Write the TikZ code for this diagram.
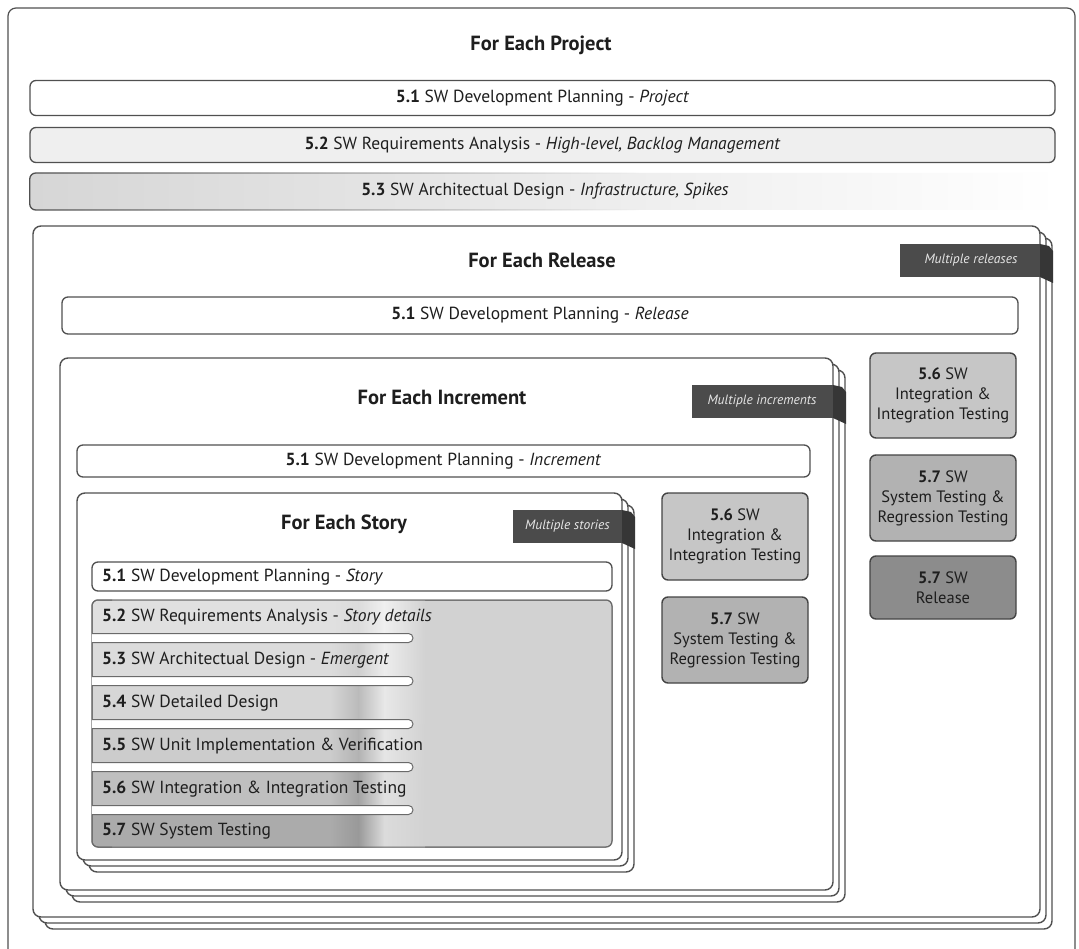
\documentclass[tikz,border=0pt]{standalone}
\usepackage{fontspec}
\setmainfont{PT Sans}
\usetikzlibrary{fadings}

\definecolor{edge}{HTML}{505050}
\definecolor{rowedge}{HTML}{6A6A6A}
\definecolor{ink}{HTML}{1E1E1E}
\definecolor{tabfill}{HTML}{4B4B4B}
\definecolor{tabwrap}{HTML}{363636}
\definecolor{tabink}{HTML}{E6E6E6}
\definecolor{panel}{HTML}{D2D2D2}
\definecolor{reqfill}{HTML}{EFEFEF}
\definecolor{archfill}{HTML}{D6D6D6}
\definecolor{archmid}{HTML}{E6E6E6}
\definecolor{intfill}{HTML}{C6C6C6}
\definecolor{sysfill}{HTML}{B2B2B2}
\definecolor{relfill}{HTML}{8C8C8C}

% a frame with two copies stacked behind it (x1,y1,x2,y2)
\newcommand\stackframe[4]{%
  \foreach \d in {12,6}{\draw[frame] (#1+\d,#2+\d) rectangle (#3+\d,#4+\d);}
  \draw[frame] (#1,#2) rectangle (#3,#4);}

% one shaded row of the story panel: top, bottom, base, band, highlight
\newcommand\storyrow[5]{%
  \fill[#3, rounded corners=6pt] (92,#1) rectangle (336,#2);
  \shade[left color=#3, right color=#4] (330,#1) rectangle (358.5,#2);
  \shade[left color=#4, right color=#5] (358,#1) rectangle (384.5,#2);
  \shade[left color=#5, right color=panel] (384,#1) rectangle (425,#2);
  \draw[rowedge, line width=1pt, rounded corners=6pt] (112,#1) -- (92,#1) -- (92,#2) -- (112,#2);}

% white separator between two rows, centred on y
\newcommand\pill[1]{%
  \filldraw[fill=white, draw=rowedge, line width=1pt, rounded corners=4.5pt]
    (92,#1-4.5) -- (413,#1-4.5) -- (413,#1+4.5) -- (92,#1+4.5);}

% dark label tab folded over the right edge of a stack
\newcommand\foldtab[4]{% left x, top y, frame right x, bottom y
  \fill[tabfill] (#1,#2) rectangle (#3,#4);
  \fill[tabwrap] (#3,#2) -- (#3+9,#2+2) -- (#3+13,#2+7) -- (#3+13,#4+6) -- (#3,#4) -- cycle;}

\begin{document}
\begin{tikzpicture}[x=1pt,y=-1pt,
  frame/.style={draw=edge, line width=1.4pt, rounded corners=8pt, fill=white},
  bar/.style={draw=edge, line width=1.3pt, rounded corners=6pt, inner sep=0pt,
    text=ink, font=\fontsize{17.5}{20}\selectfont},
  rowtext/.style={anchor=west, inner sep=0pt, text=ink, font=\fontsize{17.5}{20}\selectfont},
  title/.style={text=ink, font=\fontsize{20.5}{24}\selectfont\bfseries},
  tabtext/.style={text=tabink, font=\fontsize{13.5}{15}\selectfont\itshape},
  box/.style={draw=edge!85!black, line width=1.4pt, rounded corners=6pt, inner sep=0pt,
    align=center, text=ink, minimum width=146pt, font=\fontsize{16.5}{20}\selectfont}]

\useasboundingbox (0,0) rectangle (1079,949);
\fill[white] (0,0) rectangle (1079,949);

% ---------------- project level ----------------
\draw[edge, line width=1.2pt, rounded corners=8pt] (8,949) -- (8,8) -- (1075,8) -- (1075,949);
\node[title] (tProject) at (541,45) {For Each Project};

\node[bar, fill=white, minimum width=1025pt, minimum height=35pt] (p51) at (542.5,98)
  {\textbf{5.1} SW Development Planning - \textit{Project}};
\node[bar, fill=reqfill, minimum width=1025pt, minimum height=35pt] (p52) at (542.5,145)
  {\textbf{5.2} SW Requirements Analysis - \textit{High-level, Backlog Management}};
\node[bar, draw=none, left color=archfill, middle color=archmid, right color=white,
  minimum width=1030pt, minimum height=37pt] (p53) at (545,191.5)
  {\textbf{5.3} SW Architectual Design - \textit{Infrastructure, Spikes}};
\draw[edge, line width=1.3pt, rounded corners=6pt, path fading=east]
  (640,173) -- (30,173) -- (30,210) -- (640,210);

% ---------------- release level ----------------
\stackframe{33}{226}{1040}{917}
\foldtab{900}{244}{1040}{277}
\node[tabtext] (tRelTab) at (971,260.5) {Multiple releases};
\node[title] (tRelease) at (542,260) {For Each Release};
\node[bar, fill=white, minimum width=956pt, minimum height=37pt] (r51) at (540,315.5)
  {\textbf{5.1} SW Development Planning - \textit{Release}};

\node[box, fill=intfill, minimum height=85pt] (rel56) at (943,395.5)
  {\textbf{5.6} SW\\Integration \&\\Integration Testing};
\node[box, fill=sysfill, minimum height=86pt] (rel57) at (943,498)
  {\textbf{5.7} SW\\System Testing \&\\Regression Testing};
\node[box, fill=relfill, minimum height=63pt] (relRel) at (943,587.5)
  {\textbf{5.7} SW\\Release};

% ---------------- increment level ----------------
\stackframe{60}{358}{833}{890}
\foldtab{692}{385}{833}{418}
\node[tabtext] (tIncTab) at (762,401.5) {Multiple increments};
\node[title] (tIncrement) at (442,397) {For Each Increment};
\node[bar, fill=white, minimum width=733pt, minimum height=32pt] (i51) at (443.5,461)
  {\textbf{5.1} SW Development Planning - \textit{Increment}};

\node[box, fill=intfill, minimum height=87pt] (inc56) at (735,536.5)
  {\textbf{5.6} SW\\Integration \&\\Integration Testing};
\node[box, fill=sysfill, minimum height=86pt] (inc57) at (735,640)
  {\textbf{5.7} SW\\System Testing \&\\Regression Testing};

% ---------------- story level ----------------
\stackframe{77}{493}{622}{860}
\foldtab{513}{510}{622}{543}
\node[tabtext] (tStoTab) at (567.5,526.5) {Multiple stories};
\node[title] (tStory) at (344,524) {For Each Story};

\node[bar, fill=white, minimum width=520pt, minimum height=29pt] (s51) at (352,576.5) {};
\node[rowtext] (s51t) at (102,577) {\textbf{5.1} SW Development Planning - \textit{Story}};

% shaded panel holding the story activities
\filldraw[fill=panel, draw=rowedge, line width=1pt, rounded corners=6pt] (92,600) rectangle (612,847);
\storyrow{600}{638}{black!12}{black!14}{black!6}
\storyrow{638}{681}{black!14}{black!19}{black!7}
\storyrow{681}{724}{black!16}{black!27}{black!9}
\storyrow{724}{767}{black!20}{black!30}{black!10}
\storyrow{767}{810}{black!25}{black!36}{black!12}
\storyrow{810}{847}{black!33}{black!40}{black!14}
\draw[rowedge, line width=1pt, rounded corners=6pt] (92,600) rectangle (612,847);
\pill{638}
\pill{681}
\pill{724}
\pill{767}
\pill{810}

\node[rowtext] (s52) at (102,617) {\textbf{5.2} SW Requirements Analysis - \textit{Story details}};
\node[rowtext] (s53) at (102,660) {\textbf{5.3} SW Architectual Design - \textit{Emergent}};
\node[rowtext] (s54) at (102,703) {\textbf{5.4} SW Detailed Design};
\node[rowtext] (s55) at (102,746) {\textbf{5.5} SW Unit Implementation \& Verification};
\node[rowtext] (s56) at (102,789) {\textbf{5.6} SW Integration \& Integration Testing};
\node[rowtext] (s57) at (102,831) {\textbf{5.7} SW System Testing};

\end{tikzpicture}
\end{document}
